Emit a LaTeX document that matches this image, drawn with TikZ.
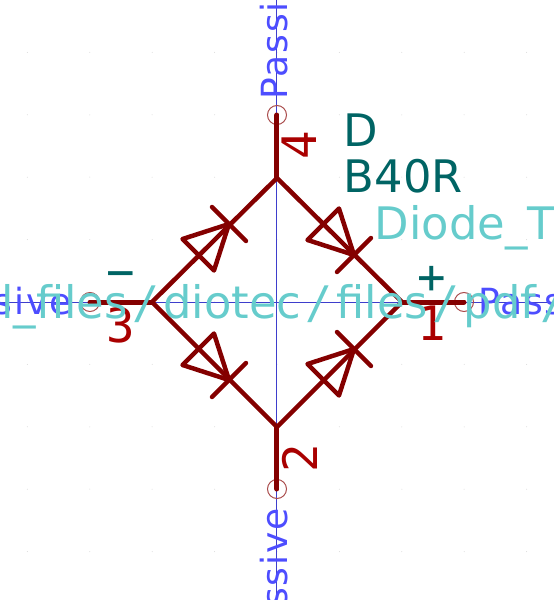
\documentclass[tikz,border=0pt]{standalone}
\usepackage{fontspec}
\setmainfont{DejaVu Sans}
\setmonofont{DejaVu Sans Mono}
\newfontfamily\typefont[LetterSpace=5]{DejaVu Sans}
\newcommand{\wideslash}{\kern2.4pt{\ttfamily/}\kern2.4pt}
\definecolor{wirered}{RGB}{132,0,0}
\definecolor{numred}{RGB}{169,0,0}
\definecolor{refteal}{RGB}{0,100,100}
\definecolor{hiddencyan}{RGB}{102,204,204}
\definecolor{typeblue}{RGB}{77,77,255}
\tikzset{
    wire/.style={draw=wirered, line width=0.09cm, line cap=round, line join=round},
    pinline/.style={draw=wirered, line width=0.1cm, line cap=round},
    axis/.style={draw=typeblue!80!black, line width=0.02cm},
    pinend/.style={circle, draw=wirered!70, line width=0.02cm, minimum size=0.38cm, inner sep=0pt},
    pinnum/.style={text=numred, font=\ttfamily\fontsize{27}{27}\selectfont, inner sep=0pt},
    pinname/.style={text=refteal, font=\ttfamily\fontsize{27}{27}\selectfont, inner sep=0pt},
    reffield/.style={text=refteal, font=\fontsize{25.5}{25.5}\selectfont, inner sep=0pt, anchor=base west},
    hidfield/.style={text=hiddencyan, font=\fontsize{25.5}{25.5}\selectfont, inner sep=0pt, anchor=base west},
    typelabel/.style={text=typeblue, font=\typefont\fontsize{20.5}{20.5}\selectfont, inner sep=0pt},
    griddot/.style={fill=black!15, inner sep=0pt, minimum size=0.02cm, circle},
    pics/bridgediode/.style={code={
        \draw [wire] (-0.87,-0.445) -- (0,0) -- (-0.87,0.445) -- cycle;
        \draw [wire] (0,-0.48) -- (0,0.48);
    }}
}
\begin{document}
\begin{tikzpicture}
    \useasboundingbox (-5.54,-5.96) rectangle (5.54,6.04);
    \clip (-5.54,-5.96) rectangle (5.54,6.04);
    % grid
    \foreach \gx in {-4,...,4} \foreach \gy in {-4,...,4}
        \node [griddot] at (\gx*1.248,\gy*1.248) {};
    % axes
    \coordinate (axl) at (-5.54,0);
    \coordinate (axr) at (5.54,0);
    \coordinate (axt) at (0,6.04);
    \coordinate (axb) at (0,-5.96);
    \draw [axis] (axl) -- (axr);
    \draw [axis] (axt) -- (axb);
    % bridge corners and pin ends
    \coordinate (ctop) at (0,2.48);
    \coordinate (cbot) at (0,-2.5);
    \coordinate (clft) at (-2.5,0);
    \coordinate (crgt) at (2.5,0);
    \node [pinend] (p4) at (0,3.74) {};
    \node [pinend] (p2) at (0,-3.74) {};
    \node [pinend] (p3) at (-3.74,0) {};
    \node [pinend] (p1) at (3.74,0) {};
    \draw [pinline] (p4.center) -- (ctop);
    \draw [pinline] (p2.center) -- (cbot);
    \draw [pinline] (p3.center) -- (clft);
    \draw [pinline] (p1.center) -- (crgt);
    \draw [wire] (ctop) -- (clft) -- (cbot) -- (crgt) -- cycle;
    % diodes
    \pic [rotate=45] at (-0.96,1.56) {bridgediode};
    \pic [rotate=-45] at (1.54,0.94) {bridgediode};
    \pic [rotate=-45] at (-0.96,-1.56) {bridgediode};
    \pic [rotate=45] at (1.54,-0.94) {bridgediode};
    % pin numbers and names
    \node [pinnum, rotate=90] (n4) at (0.45,3.14) {4};
    \node [pinnum, rotate=90] (n2) at (0.46,-3.12) {2};
    \node [pinnum] (n3) at (-3.13,-0.46) {3};
    \node [pinnum] (n1) at (3.1,-0.43) {1};
    \node [pinname] (nminus) at (-3.12,0.44) {−};
    \node [pinname] (nplus) at (3.1,0.44) {+};
    % pin types
    \node [typelabel, rotate=90, anchor=base west] (t4) at (0.22,4.05) {Passive};
    \node [typelabel, rotate=90, anchor=base east] (t2) at (0.22,-4.12) {Passive};
    \node [typelabel, anchor=base east] (t3) at (-4.1,-0.24) {Passive};
    \node [typelabel, anchor=base west] (t1) at (4.02,-0.24) {Passive};
    % fields
    \node [reffield] (refd) at (1.33,3.12) {D};
    \node [reffield] (valb) at (1.33,2.19) {B40R};
    \node [hidfield] (foot) at (1.95,1.26) {Diode\_T};
    \node [hidfield] (sheet) at (-5.52,-0.32) {l\_files\wideslash diotec\wideslash files\wideslash pdf\wideslash};
\end{tikzpicture}
\end{document}
